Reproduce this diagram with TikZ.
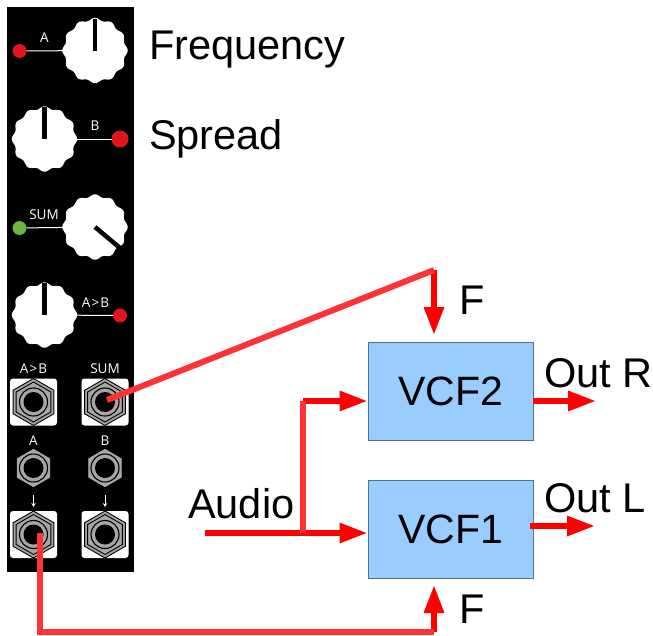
\documentclass[tikz,border=0pt]{standalone}
\usepackage{fontspec}
\setmainfont{Liberation Sans}
\newfontfamily\panelfont{Open Sans}
\usetikzlibrary{arrows.meta,shapes.geometric}

\definecolor{cableRed}{HTML}{FF3333}
\definecolor{boxBlue}{HTML}{99CCFF}
\definecolor{boxEdge}{HTML}{50708C}
\definecolor{jackGray}{HTML}{A8A6A4}
\definecolor{ledGreen}{HTML}{6DB33F}
\definecolor{ledRed}{HTML}{E2141C}

% scalloped knob outline, indicator end is given as a point
\newcommand{\knobat}[5]{
  \node[KnobStyle](#1) at (#2, #3) {};
  \fill[white] plot[domain=0:360, samples=145, smooth]
    ({#2+(31.4+1.3*cos(12*\x))*cos(\x)}, {#3+(31.4+1.3*cos(12*\x))*sin(\x)}) -- cycle;
  \coordinate(#1e) at (#4, #5);
  \draw[IndicatorStyle](#1.center) -- (#1e);
}
\newcommand{\jackat}[4]{
  \node[#4](#1) at (#2, #3) {};
  \node[JackInner] at (#1) {};
  \node[JackRingStyle] at (#1) {};
  \node[JackHoleStyle] at (#1) {};
}

\begin{document}
\begin{tikzpicture}[x=1pt,y=-1pt]
  \tikzset{PanelStyle/.style = {
    shape         = rectangle,
    fill          = black,
    inner sep     = 0pt,
    outer sep     = 0pt,
    minimum width = 127pt,
    minimum height = 565pt
    }
  }
  \tikzset{KnobStyle/.style = {
    shape         = circle,
    inner sep     = 0pt,
    outer sep     = 0pt,
    minimum size  = 63pt
    }
  }
  \tikzset{IndicatorStyle/.style = {
    draw          = black,
    line width    = 4.5pt
    }
  }
  \tikzset{LedStyle/.style = {
    shape         = circle,
    fill          = ledRed,
    inner sep     = 0pt,
    outer sep     = 0pt,
    minimum size  = 14pt
    }
  }
  \tikzset{LedWire/.style = {
    draw          = white,
    line width    = 1pt
    }
  }
  \tikzset{PanelLabel/.style = {
    text          = white,
    inner sep     = 0pt,
    font          = \panelfont\fontsize{13.5}{13.5}\selectfont
    }
  }
  \tikzset{PadStyle/.style = {
    shape         = rectangle,
    rounded corners = 3pt,
    fill          = white,
    minimum size  = 47pt,
    inner sep     = 0pt
    }
  }
  \tikzset{JackBig/.style = {
    shape         = regular polygon,
    regular polygon sides = 6,
    shape border rotate = 30,
    draw          = black,
    fill          = jackGray,
    line width    = 0.9pt,
    inner sep     = 0pt,
    outer sep     = 0pt,
    minimum size  = 47pt
    }
  }
  \tikzset{JackSmall/.style = {
    JackBig,
    minimum size  = 40pt
    }
  }
  \tikzset{JackInner/.style = {
    JackBig,
    fill          = none,
    minimum size  = 40pt
    }
  }
  \tikzset{JackRingStyle/.style = {
    shape         = circle,
    draw          = black,
    line width    = 1.1pt,
    inner sep     = 0pt,
    minimum size  = 28pt
    }
  }
  \tikzset{JackHoleStyle/.style = {
    shape         = circle,
    fill          = black,
    inner sep     = 0pt,
    minimum size  = 20pt
    }
  }
  \tikzset{VcfStyle/.style = {
    shape         = rectangle,
    draw          = boxEdge,
    fill          = boxBlue,
    line width    = 0.9pt,
    inner sep     = 0pt,
    outer sep     = 0pt,
    minimum width = 165pt,
    minimum height = 98pt,
    font          = \fontsize{41}{41}\selectfont
    }
  }
  \tikzset{BigLabel/.style = {
    anchor        = base west,
    inner sep     = 0pt,
    font          = \fontsize{41.5}{41.5}\selectfont
    }
  }
  \tikzset{SignalStyle/.style = {
    draw          = red,
    line width    = 6pt,
    -{Triangle[length=28pt,width=19pt]}
    }
  }
  \tikzset{CableStyle/.style = {
    draw          = cableRed,
    line width    = 6pt,
    line join     = miter
    }
  }

  \useasboundingbox (0, 0) rectangle (653, 635);

  % front panel
  \node[PanelStyle](panel) at (70.5, 289) {};

  \knobat{knobA}{95}{50.5}{95}{19}
  \knobat{knobB}{44.5}{139}{44.5}{107}
  \knobat{knobSum}{95}{227}{120}{248}
  \knobat{knobCmp}{44.5}{315}{44.5}{283}

  \node[LedStyle](ledA) at (19.5, 51) {};
  \node[LedStyle, minimum size=17pt](ledB) at (120, 139) {};
  \node[LedStyle, fill=ledGreen](ledSum) at (19.5, 228) {};
  \node[LedStyle](ledCmp) at (120, 315.5) {};
  \draw[LedWire](ledA) -- (knobA);
  \draw[LedWire](knobB) -- (ledB);
  \draw[LedWire](ledSum) -- (knobSum);
  \draw[LedWire](knobCmp) -- (ledCmp);

  \node[PanelLabel](lblA) at (44.5, 38) {A};
  \node[PanelLabel](lblB) at (95, 126) {B};
  \node[PanelLabel](lblSum) at (44, 215) {SUM};
  \node[PanelLabel](lblCmp) at (95.5, 303) {A\kern1.2pt>\kern1.2pt B};

  \node[PanelLabel](lblOutCmp) at (33.5, 369) {A\kern1.2pt>\kern1.2pt B};
  \node[PanelLabel](lblOutSum) at (105, 368.5) {SUM};
  \node[PanelLabel](lblInA) at (33.5, 441) {A};
  \node[PanelLabel](lblInB) at (105, 441) {B};

  \node[PadStyle](padCmp) at (33.5, 402) {};
  \node[PadStyle](padSum) at (105, 402) {};
  \node[PadStyle](padA) at (33.5, 534.5) {};
  \node[PadStyle](padB) at (105, 534.5) {};
  \jackat{jackCmp}{33.5}{402}{JackBig}
  \jackat{jackSum}{105}{402}{JackBig}
  \jackat{jackInA}{33.5}{468}{JackSmall}
  \jackat{jackInB}{105}{468}{JackSmall}
  \jackat{jackA}{33.5}{534.5}{JackBig}
  \jackat{jackB}{105}{534.5}{JackBig}

  \draw[draw=white, line width=1pt, -{Stealth[length=4pt,width=4.5pt]}](jackInA.center) ++(0, 27) -- ++(0, 12);
  \draw[draw=white, line width=1pt, -{Stealth[length=4pt,width=4.5pt]}](jackInB.center) ++(0, 27) -- ++(0, 12);

  \node[BigLabel](lblFreq) at (149, 59) {Frequency};
  \node[BigLabel](lblSpread) at (149, 149) {Spread};

  % filters
  \node[VcfStyle](vcf2) at (450.5, 391.5) {VCF2};
  \node[VcfStyle](vcf1) at (450.5, 529.5) {VCF1};

  \node[BigLabel](lblF2) at (459, 314) {F};
  \node[BigLabel](lblF1) at (459, 623) {F};
  \node[BigLabel](lblOutR) at (544, 387) {Out R};
  \node[BigLabel](lblOutL) at (544, 512) {Out L};
  \node[BigLabel](lblAudio) at (188, 518) {Audio};

  \coordinate(audioIn) at (205, 533);
  \coordinate(audioTap) at (303, 533);
  \coordinate(audioUp) at (303, 401);
  \coordinate(vcf2In) at (367.5, 401);
  \coordinate(vcf1In) at (367.5, 533);
  \coordinate(vcf2Out) at (533, 401);
  \coordinate(outR) at (596, 401);
  \coordinate(vcf1Out) at (530, 526);
  \coordinate(outL) at (595, 526);
  \coordinate(fTop) at (434, 270);
  \coordinate(fTopEnd) at (434, 335);
  \coordinate(fBot) at (434, 632);
  \coordinate(fBotEnd) at (434, 585);
  \coordinate(plugSum) at (107, 400);
  \coordinate(plugA) at (40, 533);
  \coordinate(cableCorner) at (40, 632);

  \draw[SignalStyle](audioIn) -- (vcf1In);
  \draw[SignalStyle](audioUp) -- (vcf2In);
  \draw[SignalStyle](vcf2Out) -- (outR);
  \draw[SignalStyle](vcf1Out) -- (outL);
  \draw[SignalStyle](fTop) -- (fTopEnd);
  \draw[SignalStyle](fBot) -- (fBotEnd);
  \draw[CableStyle](audioTap) -- (audioUp);
  \draw[CableStyle](plugSum) -- (fTop);
  \draw[CableStyle](plugA) -- (cableCorner) -- (fBot);
\end{tikzpicture}
\end{document}
